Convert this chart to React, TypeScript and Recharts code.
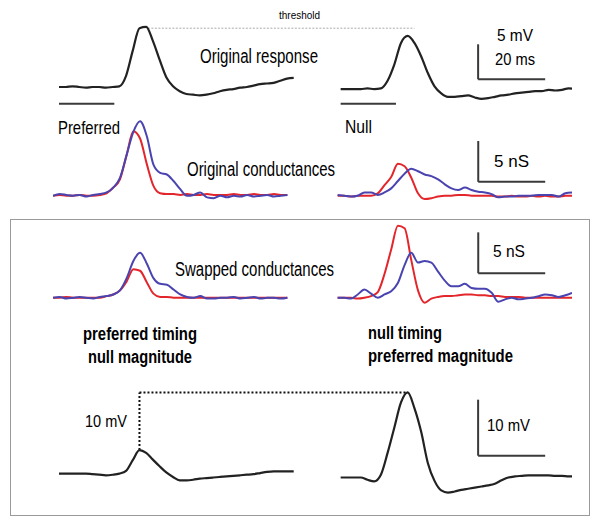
import { LineChart, Line, XAxis, YAxis, ReferenceLine } from 'recharts';

// sample times (ms) shared by every trace
const TIME_MS = [0, 2, 4, 6, 8, 10, 12, 14, 16, 18, 20, 22, 24, 26, 28, 30, 32, 34, 36, 38, 40, 42, 44, 46, 48, 50, 52, 54, 56, 58, 60, 62, 64, 66, 68, 70];

// original membrane responses (mV from resting level)
const vmPreferred = [0, 0, 0.1, 0, -0.1, 0, 0, -0.1, 0, 0.1, 1.6, 5.2, 8.4, 8.6, 6.6, 3.9, 1.4, 0.1, -0.6, -1.0, -1.1, -1.2, -1.1, -0.9, -0.6, -0.4, -0.3, -0.1, 0, 0.2, 0.4, 0.5, 0.6, 0.9, 1.2, 1.3];
const vmNull = [-0.3, -0.3, -0.3, -0.3, -0.2, -0.3, -0.2, 0.9, 3.2, 6.3, 7.3, 6.3, 4.4, 2.0, 0.1, -0.9, -1.4, -1.4, -1.3, -1.2, -1.5, -1.7, -1.6, -1.4, -1.2, -1.1, -0.9, -0.8, -0.7, -0.6, -0.6, -0.4, -0.5, -0.4, -0.2, -0.3];

// original conductances (nS)
const gRedPreferred = [0, 0.1, 0, 0, 0.1, 0, 0, 0.1, 0.3, 1.0, 2.0, 5.0, 7.9, 7.0, 3.9, 1.2, 0.3, 0.2, 0.2, 0.1, 0.2, 0.1, 0.1, 0.2, 0.1, 0.1, 0.1, 0.2, 0.1, 0.1, 0.2, 0.1, 0.1, 0.2, 0.1, 0.1];
const gBluePreferred = [0, 0.2, 0.1, 0, 0.1, -0.1, 0.1, 0.2, 0.4, 1.0, 2.2, 5.0, 7.8, 9.1, 7.3, 3.8, 2.8, 2.6, 1.8, 0.8, 0, 0.1, 0.4, -0.2, -0.3, 0, -0.2, 0, -0.1, 0.1, -0.1, 0, 0.1, -0.1, 0, 0.1];
const gRedNull = [0, 0, -0.1, 0, 0, 0, 0.3, 1.3, 2.3, 3.9, 3.6, 2.2, 0.3, -0.4, -0.3, -0.1, 0, 0, 0.1, 0.1, 0, 0, 0, 0, -0.1, -0.1, 0, -0.1, -0.1, 0, -0.1, 0, -0.1, -0.1, 0, 0];
const gBlueNull = [0.1, 0, -0.1, 0, 0.4, 0.4, 0.1, 0.4, 0.9, 1.8, 2.7, 3.3, 3.0, 2.6, 2.4, 2.0, 1.4, 0.9, 0.7, 1.0, 0.7, 0.5, 0.4, 0.2, -0.2, -0.1, -0.1, 0, 0, 0, 0.1, 0.1, 0.1, -0.1, 0.3, 0.4];

// swapped conductances (nS)
const swRedPrefTiming = [0, 0, 0.1, 0, 0, 0, 0, 0, 0.2, 0.4, 0.9, 2.0, 3.5, 3.3, 1.9, 0.5, 0.1, 0.1, 0, 0, 0, 0, 0, 0, 0, 0, 0, 0, 0, 0, 0, 0, 0, 0, 0, 0];
const swBluePrefTiming = [0, 0.1, -0.1, 0, 0.1, 0, -0.1, 0.1, 0.2, 0.4, 0.9, 2.4, 4.5, 5.5, 4.2, 2.4, 1.7, 1.6, 1.0, 0.4, 0.1, 0, 0.2, -0.1, -0.1, 0, 0, 0.1, -0.1, 0, 0.1, -0.1, 0, 0, -0.1, 0];
const swRedNullTiming = [0, 0, 0, -0.1, 0, 0.2, 0.7, 2.9, 5.9, 8.8, 8.5, 4.6, 0.9, -0.6, -0.1, 0.1, 0.2, 0.2, 0.3, 0.4, 0.4, 0.3, 0.3, 0.2, 0.2, 0.1, 0.1, 0.1, 0, 0, 0, 0, 0, 0, 0, 0];
const swBlueNullTiming = [0, 0, -0.1, 0.4, 1.0, 0.5, 0, 0.4, 0.8, 1.8, 4.0, 5.5, 4.3, 4.5, 4.3, 3.2, 2.1, 1.4, 1.4, 1.7, 1.2, 1.1, 1.1, 0.6, -0.5, -0.2, 0, -0.2, -0.1, 0, 0.2, 0.4, 0.3, 0.1, 0.3, 0.6];

// model responses to the swapped conductances (mV)
const vmSwapPrefTiming = [0, 0, 0, 0, 0, -0.1, -0.2, -0.3, -0.2, 0, 0.5, 2.4, 4.2, 3.7, 2.5, 1.3, 0.2, -0.6, -1.2, -1.2, -1.1, -0.9, -0.8, -0.7, -0.6, -0.5, -0.4, -0.3, -0.2, -0.1, 0.1, 0.3, 0.4, 0.4, 0.4, 0.4];
const vmSwapNullTiming = [-0.7, -0.7, -0.7, -0.7, -1.1, -1.4, -0.2, 3.7, 8.2, 12.7, 14.5, 11.7, 7.5, 1.9, -1.3, -3.0, -3.4, -3.2, -2.9, -2.7, -2.5, -2.3, -2.1, -1.8, -1.2, -0.7, -0.5, -0.4, -0.3, -0.3, -0.3, -0.3, -0.4, -0.4, -0.5, -0.5];

const THRESHOLD_MV = 8.4;
const STIM_MS = 16.5;

const BLACK = '#222';
const RED = '#e3262b';
const BLUE = '#4a44b0';
const BAR = '#3a3a3a';

function buildRows(offset: number, left: Record<string, number[]>, right: Record<string, number[]>) {
    const rows: any[] = [];
    TIME_MS.forEach((t, i) => {
        const r: any = { t };
        for (const k in left) r[k] = left[k][i];
        rows.push(r);
    });
    TIME_MS.forEach((t, i) => {
        const r: any = { t: t + offset };
        for (const k in right) r[k] = right[k][i];
        rows.push(r);
    });
    return rows;
}

function peak(values: number[]) {
    let idx = 0;
    values.forEach((v, i) => { if (v > values[idx]) idx = i; });
    return { t: TIME_MS[idx], v: values[idx] };
}

interface RowProps {
    data: any[];
    series: { key: string; color: string }[];
    left: number;
    top: number;
    width: number;
    height: number;
    xMax: number;
    yDomain: [number, number];
    lineWidth?: number;
    children?: any;
}

function TraceRow({ data, series, left, top, width, height, xMax, yDomain, lineWidth = 2, children }: RowProps) {
    return (
        <div style={{ position: 'absolute', left, top }}>
            <LineChart width={width} height={height} data={data} margin={{ top: 0, right: 0, bottom: 0, left: 0 }}>
                <XAxis dataKey="t" type="number" domain={[0, xMax]} hide allowDataOverflow />
                <YAxis type="number" domain={yDomain} hide allowDataOverflow />
                {children}
                {series.map(s => (
                    <Line
                        key={s.key}
                        dataKey={s.key}
                        type="monotone"
                        stroke={s.color}
                        strokeWidth={lineWidth}
                        dot={false}
                        isAnimationActive={false}
                    />
                ))}
            </LineChart>
        </div>
    );
}

function scaleBar(x: number, y: number, ms: number, amp: number) {
    return [
        <ReferenceLine key="sv" segment={[{ x, y }, { x, y: y + amp }]} stroke={BAR} strokeWidth={2} ifOverflow="visible" />,
        <ReferenceLine key="sh" segment={[{ x, y }, { x: x + ms, y }]} stroke={BAR} strokeWidth={2} ifOverflow="visible" />,
    ];
}

const label = (text: string, x: number, y: number, len: number, size: number, bold = false) => (
    <text x={x} y={y} textLength={len} lengthAdjust="spacingAndGlyphs" fontSize={size} fontWeight={bold ? 'bold' : 'normal'} fill="#000">
        {text}
    </text>
);

export default function App() {
    const respRows = buildRows(84, { pref: vmPreferred }, { nul: vmNull });
    const origRows = buildRows(85, { redP: gRedPreferred, blueP: gBluePreferred }, { redN: gRedNull, blueN: gBlueNull });
    const swapRows = buildRows(85, { redP: swRedPrefTiming, blueP: swBluePrefTiming }, { redN: swRedNullTiming, blueN: swBlueNullTiming });
    const outRows = buildRows(84, { pref: vmSwapPrefTiming }, { nul: vmSwapNullTiming });

    const pkLeft = peak(vmSwapPrefTiming);
    const pkRight = peak(vmSwapNullTiming);

    return (
        <div style={{ position: 'absolute', left: 0, top: 0, width: 600, height: 528, background: '#fff', fontFamily: '"Liberation Sans", Arial, sans-serif', overflow: 'hidden' }}>
            <div style={{ position: 'absolute', left: 10, top: 219, width: 580, height: 297, border: '1.5px solid #9a9a9a', boxSizing: 'border-box' }} />

            <TraceRow data={respRows} series={[{ key: 'pref', color: BLACK }, { key: 'nul', color: BLACK }]}
                left={59} top={17} width={513} height={91} xMax={153} yDomain={[-3, 10]} lineWidth={2.2}>
                <ReferenceLine segment={[{ x: 26.5, y: THRESHOLD_MV }, { x: 106, y: THRESHOLD_MV }]} stroke="#aaa" strokeWidth={1} strokeDasharray="2 1.5" ifOverflow="visible" />
                <ReferenceLine segment={[{ x: 0, y: -2.4 }, { x: STIM_MS, y: -2.4 }]} stroke={BAR} strokeWidth={2} ifOverflow="visible" />
                <ReferenceLine segment={[{ x: 84, y: -2.4 }, { x: 84 + STIM_MS, y: -2.4 }]} stroke={BAR} strokeWidth={2} ifOverflow="visible" />
                {scaleBar(125, 1.1, 20, 5)}
            </TraceRow>

            <TraceRow data={origRows}
                series={[{ key: 'redP', color: RED }, { key: 'blueP', color: BLUE }, { key: 'redN', color: RED }, { key: 'blueN', color: BLUE }]}
                left={53} top={114} width={519} height={94} xMax={155} yDomain={[-1.5, 10]}>
                {scaleBar(127, 1.7, 20, 5)}
            </TraceRow>

            <TraceRow data={swapRows}
                series={[{ key: 'redP', color: RED }, { key: 'blueP', color: BLUE }, { key: 'redN', color: RED }, { key: 'blueN', color: BLUE }]}
                left={53} top={216} width={519} height={94} xMax={155} yDomain={[-1.5, 10]}>
                {scaleBar(127, 3.0, 20, 5)}
            </TraceRow>

            <TraceRow data={outRows} series={[{ key: 'pref', color: BLACK }, { key: 'nul', color: BLACK }]}
                left={59} top={384} width={513} height={112} xMax={153} yDomain={[-4, 16]} lineWidth={2.2}>
                <ReferenceLine segment={[{ x: pkLeft.t, y: pkLeft.v }, { x: pkLeft.t, y: pkRight.v }]} stroke="#111" strokeWidth={2} strokeDasharray="2 2" ifOverflow="visible" />
                <ReferenceLine segment={[{ x: pkLeft.t, y: pkRight.v }, { x: 84 + pkRight.t, y: pkRight.v }]} stroke="#111" strokeWidth={2} strokeDasharray="2 2" ifOverflow="visible" />
                {scaleBar(125, 3.2, 20, 10)}
            </TraceRow>

            <svg width={600} height={528} style={{ position: 'absolute', left: 0, top: 0, pointerEvents: 'none' }} fontFamily='"Liberation Sans", Arial, sans-serif'>
                {label('threshold', 279, 19, 41, 11)}
                {label('Original response', 200, 62.5, 118, 20)}
                {label('5 mV', 497, 41, 36, 17)}
                {label('20 ms', 495, 65, 40, 17)}
                {label('Preferred', 58, 133.5, 62, 19)}
                {label('Null', 345, 133, 27, 19)}
                {label('Original conductances', 187, 176, 148, 20)}
                {label('5 nS', 494, 166.5, 35, 17)}
                {label('Swapped conductances', 175, 276, 159, 20)}
                {label('5 nS', 493, 257, 32, 17)}
                {label('preferred timing', 83, 339.5, 114, 18, true)}
                {label('null magnitude', 88, 363, 104, 18, true)}
                {label('null timing', 368, 338.5, 74, 18, true)}
                {label('preferred magnitude', 368, 361.5, 145, 18, true)}
                {label('10 mV', 85, 427, 42, 17)}
                {label('10 mV', 487, 431, 43, 17)}
            </svg>
        </div>
    );
}
